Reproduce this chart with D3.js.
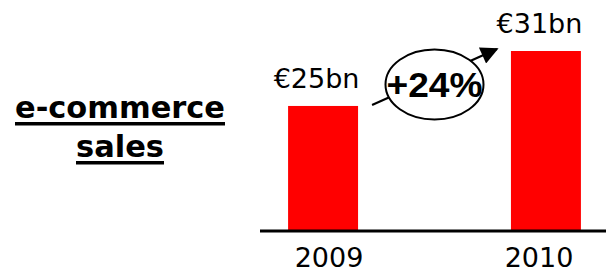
<!DOCTYPE html>
<html>
<head>
<meta charset="utf-8">
<script src="https://cdn.jsdelivr.net/npm/d3@7"></script>
<style>
  html, body { margin: 0; padding: 0; background: #fff; }
  svg { display: block; }
</style>
</head>
<body>
<svg id="chart"></svg>
<script>
// data
const years = ["2009", "2010"];
const sales = [25, 31];
const valueLabels = ["€25bn", "€31bn"];
const growthLabel = "+24%";
const titleLines = ["e-commerce", "sales"];

const width = 606,
    height = 272,
    baseY = 231;

const svg = d3.select("#chart")
    .attr("width", width)
    .attr("height", height);

const x = d3.scaleBand()
    .domain(years)
    .range([260, 609])
    .paddingInner(0.686)
    .paddingOuter(0.126);

// baseline of the original chart is not at zero
const y = d3.scaleLinear()
    .domain([11.35, 31])
    .range([baseY, 51]);

const xLabel = d3.scalePoint()
    .domain(years)
    .range([329, 539]);

const bars = years.map((d, i) => ({year: d, value: sales[i], label: valueLabels[i]}));

// title
const title = svg.append("g")
    .attr("font-family", "DejaVu Sans")
    .attr("font-weight", "bold")
    .attr("font-size", 30)
    .attr("text-anchor", "middle");

const titleBase = [118, 157];
const titleW = [210, 88];
titleLines.forEach((t, i) => {
    title.append("text")
        .attr("x", 120)
        .attr("y", titleBase[i])
        .attr("textLength", titleW[i])
        .attr("lengthAdjust", "spacingAndGlyphs")
        .text(t);
    title.append("rect")
        .attr("x", 120 - titleW[i] / 2)
        .attr("y", titleBase[i] + 4)
        .attr("width", titleW[i])
        .attr("height", 3.5)
        .attr("fill", "#000");
});

// bars
svg.append("g")
    .selectAll("rect")
    .data(bars)
    .join("rect")
    .attr("x", d => x(d.year))
    .attr("y", d => y(d.value))
    .attr("width", x.bandwidth())
    .attr("height", d => baseY - y(d.value))
    .attr("fill", "#ff0000");

// axis line
svg.append("line")
    .attr("x1", 260)
    .attr("x2", width)
    .attr("y1", baseY)
    .attr("y2", baseY)
    .attr("stroke", "#000")
    .attr("stroke-width", 3);

// value labels
svg.append("g")
    .attr("font-family", "DejaVu Sans")
    .attr("font-size", 27)
    .attr("text-anchor", "middle")
    .selectAll("text")
    .data(bars)
    .join("text")
    .attr("x", d => x(d.year) + x.bandwidth() / 2 - 6.5)
    .attr("y", d => y(d.value) - 18)
    .text(d => d.label);

// year labels
svg.append("g")
    .attr("font-family", "DejaVu Sans")
    .attr("font-size", 27)
    .attr("text-anchor", "middle")
    .selectAll("text")
    .data(years)
    .join("text")
    .attr("x", d => xLabel(d))
    .attr("y", 267)
    .text(d => d);

// growth arrow
const x0 = x(years[0]) + x.bandwidth() + 14,
    y0 = y(sales[0]) - 1,
    x1 = x(years[1]) - 14,
    y1 = y(sales[1]) - 2;

svg.append("defs")
    .append("marker")
    .attr("id", "head")
    .attr("viewBox", "0 0 10 10")
    .attr("refX", 9)
    .attr("refY", 5)
    .attr("markerWidth", 8.5)
    .attr("markerHeight", 8)
    .attr("markerUnits", "strokeWidth")
    .attr("orient", "auto")
    .append("path")
    .attr("d", "M0,0 L10,5 L0,10 Z")
    .attr("fill", "#000");

svg.append("line")
    .attr("x1", x0)
    .attr("y1", y0)
    .attr("x2", x1)
    .attr("y2", y1)
    .attr("stroke", "#000")
    .attr("stroke-width", 2.2)
    .attr("marker-end", "url(#head)");

const cx = (x(years[0]) + x.bandwidth() + x(years[1])) / 2;

svg.append("ellipse")
    .attr("cx", cx)
    .attr("cy", 84.5)
    .attr("rx", 49)
    .attr("ry", 35)
    .attr("fill", "#fff")
    .attr("stroke", "#000")
    .attr("stroke-width", 2);

svg.append("text")
    .attr("x", cx)
    .attr("y", 97)
    .attr("text-anchor", "middle")
    .attr("font-family", "Liberation Sans, Arial, sans-serif")
    .attr("font-weight", "bold")
    .attr("font-size", 35)
    .attr("textLength", 96)
    .attr("lengthAdjust", "spacingAndGlyphs")
    .text(growthLabel);
</script>
</body>
</html>
